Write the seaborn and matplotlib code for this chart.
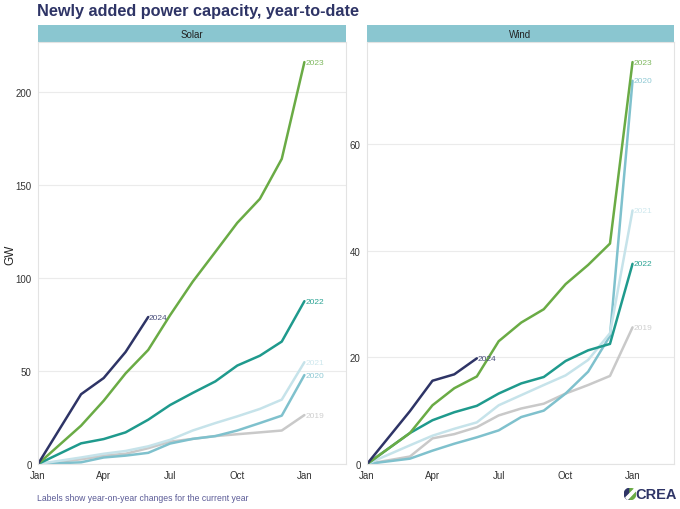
import matplotlib
matplotlib.use("Agg")
import matplotlib.pyplot as plt
import matplotlib.patches as mpatches
import seaborn as sns
import pandas as pd
import numpy as np

# ---- data ----
# day-of-year of each data point (start of year, then end of Feb ... end of Dec)
days = [0, 59, 90, 120, 151, 181, 212, 243, 273, 304, 334, 365]
years = [2019, 2020, 2021, 2022, 2023, 2024]

solar_2019 = [0, 2.5, 4.5, 5.5, 8.5, 12.0, 13.5, 15.0, 16.0, 17.0, 18.0, 26.3]
solar_2020 = [0, 0.9, 3.5, 4.5, 6.0, 11.0, 13.5, 15.0, 18.0, 22.0, 26.0, 47.8]
solar_2021 = [0, 3.5, 5.5, 7.0, 9.5, 13.0, 18.0, 22.0, 25.6, 29.6, 34.6, 54.7]
solar_2022 = [0, 11.1, 13.4, 17.0, 23.8, 31.7, 38.2, 44.4, 52.9, 58.2, 65.8, 87.5]
solar_2023 = [0, 20.6, 34.0, 48.7, 61.3, 80.0, 98.0, 114.0, 129.6, 142.5, 164.0, 216.0]
solar_2024 = [0, 37.5, 46.2, 60.2, 79.0]

wind_2019 = [0, 1.4, 4.8, 5.6, 6.9, 9.1, 10.4, 11.3, 13.2, 14.8, 16.5, 25.6]
wind_2020 = [0, 1.0, 2.5, 3.8, 5.0, 6.3, 8.8, 10.0, 13.2, 17.3, 24.0, 71.8]
wind_2021 = [0, 3.5, 5.3, 6.6, 7.8, 11.0, 12.9, 14.8, 16.6, 19.5, 24.5, 47.5]
wind_2022 = [0, 5.8, 8.2, 9.7, 10.9, 13.2, 15.1, 16.3, 19.3, 21.3, 22.5, 37.5]
wind_2023 = [0, 5.8, 11.0, 14.2, 16.4, 23.0, 26.5, 29.0, 33.7, 37.3, 41.3, 75.3]
wind_2024 = [0, 9.9, 15.6, 16.8, 19.8]

xtick_pos = [0, 90, 181, 273, 365]
xtick_labels = ["Jan", "Apr", "Jul", "Oct", "Jan"]

colors = {2019: "#c9c9c9", 2020: "#7fc1cd", 2021: "#c6e3ea",
          2022: "#1f9a8d", 2023: "#6aab45", 2024: "#2e3466"}
label_colors = {2019: "#cfcfcf", 2020: "#8fc9d4", 2021: "#cfe8ee",
                2022: "#2aa394", 2023: "#7fb860", 2024: "#4a4f7c"}

solar = {2019: solar_2019, 2020: solar_2020, 2021: solar_2021,
         2022: solar_2022, 2023: solar_2023, 2024: solar_2024}
wind = {2019: wind_2019, 2020: wind_2020, 2021: wind_2021,
        2022: wind_2022, 2023: wind_2023, 2024: wind_2024}


def to_df(d):
    rows = []
    for y, vals in d.items():
        for x, v in zip(days, vals):
            rows.append({"day": x, "value": v, "year": y})
    return pd.DataFrame(rows)


sns.set_theme(style="white")
plt.rcParams['font.family'] = ['Liberation Sans', 'DejaVu Sans']

fig = plt.figure(figsize=(6.8, 5.1), dpi=100)
W, H = 680, 510


def axrect(x0, y0, x1, y1):
    return [x0 / W, 1 - y1 / H, (x1 - x0) / W, (y1 - y0) / H]


ax1 = fig.add_axes(axrect(38, 43, 346, 465))
ax2 = fig.add_axes(axrect(367, 43, 674, 465))

for ax, data, title, yticks in [(ax1, solar, "Solar", [0, 50, 100, 150, 200]),
                                (ax2, wind, "Wind", [0, 20, 40, 60])]:
    df = to_df(data)
    sns.lineplot(data=df, x="day", y="value", hue="year", palette=colors,
                 hue_order=years, linewidth=1.8, ax=ax, legend=False,
                 sort=True, estimator=None)
    ymax = max(max(v) for v in data.values())
    ax.set_xlim(0, 422)
    ax.set_ylim(0, ymax * 1.05)
    ax.set_xticks(xtick_pos)
    ax.set_xticklabels(xtick_labels)
    ax.set_yticks(yticks)
    ax.set_xlabel("")
    ax.set_ylabel("")
    ax.grid(axis="y", color="#ebebeb", linewidth=0.8)
    ax.grid(axis="x", visible=False)
    ax.tick_params(axis="both", labelsize=7, length=2.5,
                   width=0.6, pad=2, direction="out",
                   colors="#aaaaaa", labelcolor="#333333")
    for s in ax.spines.values():
        s.set_color("#e3e3e3")
        s.set_linewidth(0.8)
    for y, vals in data.items():
        xe = days[len(vals) - 1]
        ax.text(xe + 1, vals[-1], str(y), color=label_colors[y], fontsize=6,
                va="center", ha="left")
    # strip
    strip_h = 17 / 422
    rect = mpatches.Rectangle((0, 1), 1, strip_h, transform=ax.transAxes,
                              facecolor="#8ac6d0", edgecolor="none",
                              clip_on=False)
    ax.add_patch(rect)
    ax.text(0.5, 1 + strip_h / 2, title, transform=ax.transAxes,
            ha="center", va="center", fontsize=7, color="#222222")

fig.text(10 / W, 1 - 255 / H, "GW", fontsize=8.5, color="#222222",
         rotation=90, ha="center", va="center")

fig.text(37 / W, 1 - 16 / H, "Newly added power capacity, year-to-date",
         fontsize=11.7, fontweight="bold", color="#2e3466", ha="left",
         va="baseline")
fig.text(37 / W, 1 - 499 / H,
         "Labels show year-on-year changes for the current year",
         fontsize=6.25, color="#5a5a96", ha="left", va="center")

# CREA logo
fig.text(677 / W, 1 - 495 / H, "CREA", fontsize=10.5, fontweight="bold",
         color="#2e3466", ha="right", va="center")
logo_ax = fig.add_axes([624 / W, 1 - 501 / H, 12 / W, 12 / H])
logo_ax.set_xlim(0, 1)
logo_ax.set_ylim(0, 1)
logo_ax.axis("off")
logo_ax.add_patch(mpatches.Wedge((0.5, 0.5), 0.48, 90, 270, color="#2e3466"))
logo_ax.add_patch(mpatches.Wedge((0.5, 0.5), 0.48, -90, 90, color="#6aab45"))
logo_ax.add_patch(mpatches.Polygon([(0.15, 0.2), (0.85, 0.9), (0.95, 0.75), (0.3, 0.05)],
                                   color="white"))

fig.savefig("out.png", dpi=100)
